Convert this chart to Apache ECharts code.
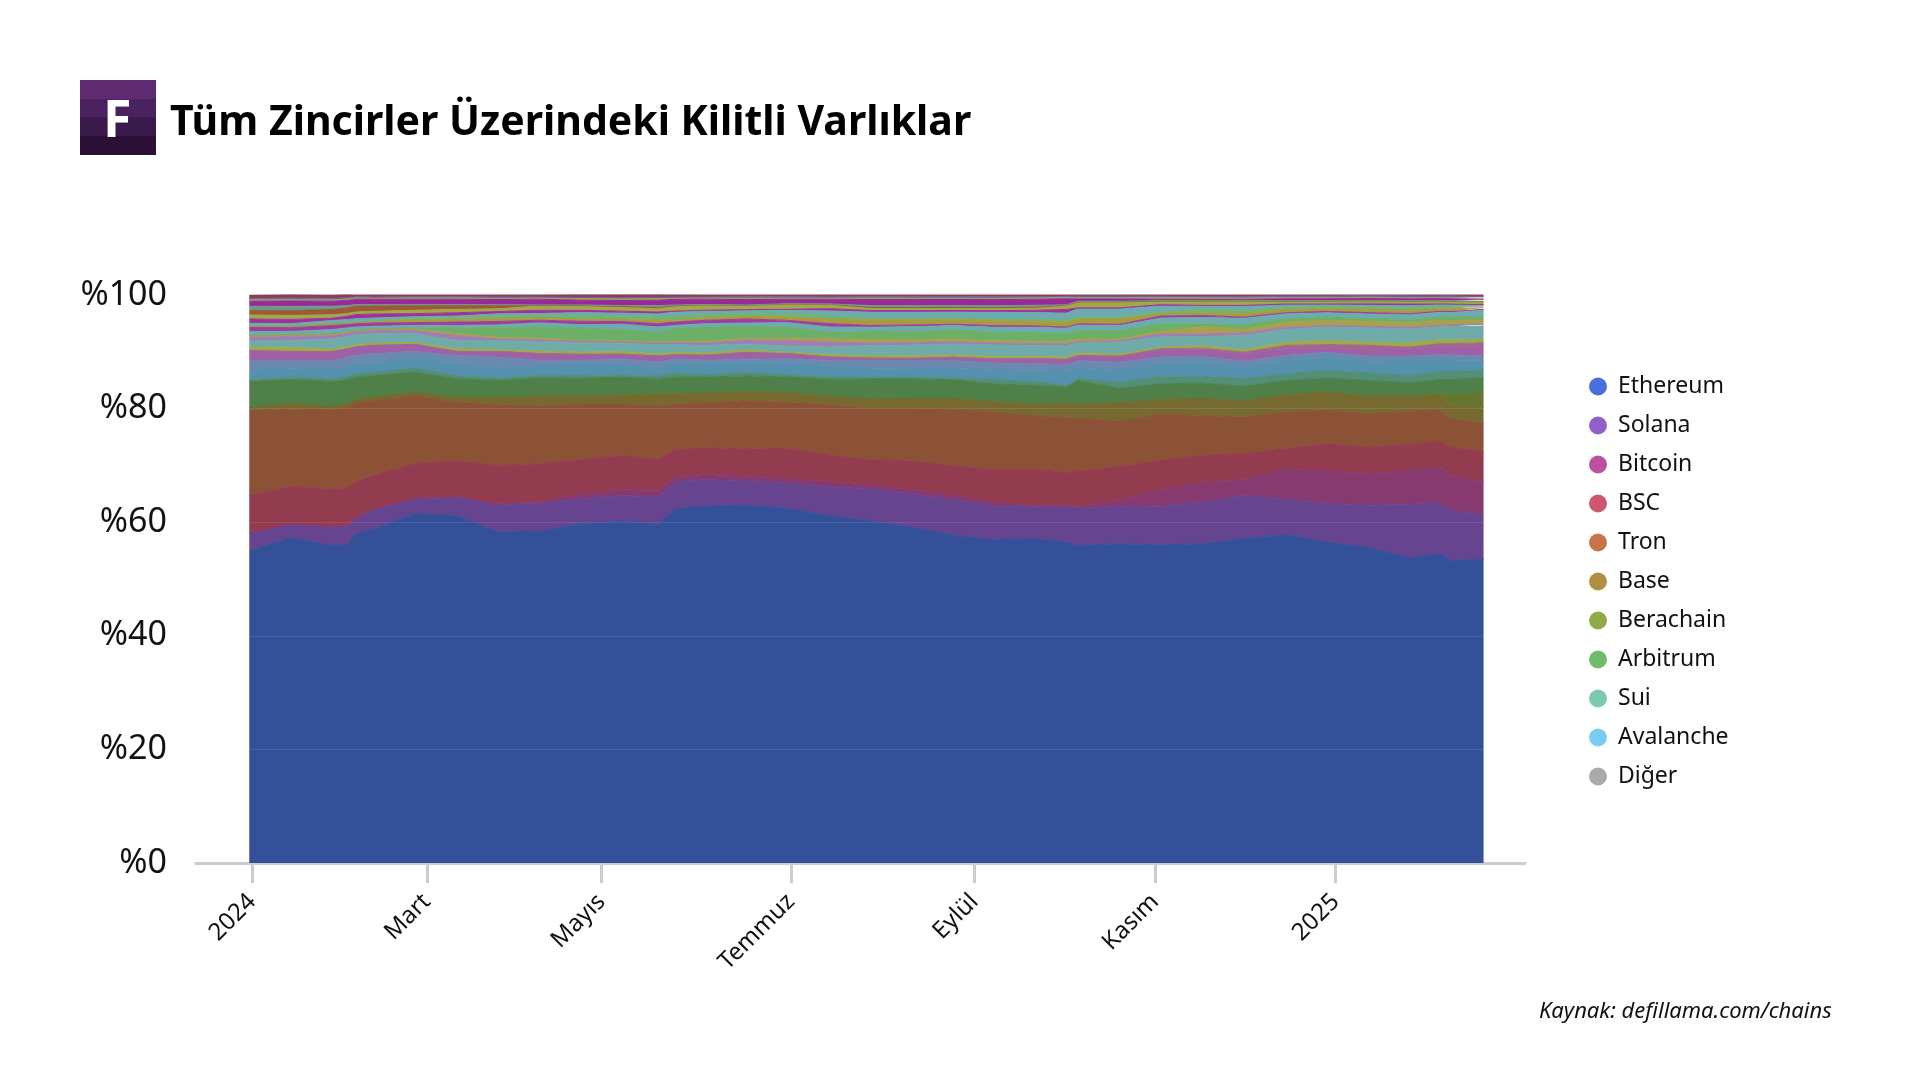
<!DOCTYPE html>
<html>
<head>
<meta charset="utf-8">
<title>Tüm Zincirler Üzerindeki Kilitli Varlıklar</title>
<script src="https://cdn.jsdelivr.net/npm/echarts@6/dist/echarts.min.js"></script>
<style>
html,body{margin:0;padding:0;background:#fff}
#box{width:1920px;height:1080px}
</style>
</head>
<body>
<div id="box"></div>
<script>
const dates = ['2023-12-31','2024-01-14','2024-01-28','2024-02-02','2024-02-05','2024-02-11','2024-02-25','2024-03-10','2024-03-24','2024-04-07','2024-04-21','2024-05-05','2024-05-17','2024-05-23','2024-06-02','2024-06-16','2024-06-30','2024-07-14','2024-07-28','2024-08-11','2024-08-25','2024-09-08','2024-09-22','2024-10-02','2024-10-06','2024-10-20','2024-11-03','2024-11-17','2024-12-01','2024-12-15','2024-12-29','2025-01-12','2025-01-26','2025-02-05','2025-02-09','2025-02-20'];

// month ticks
const tickDates = ['2024-01-01','2024-02-29','2024-04-28','2024-07-01','2024-09-01','2024-11-01','2025-01-01'];
const tickLabels = ['2024','Mart','Mayıs','Temmuz','Eylül','Kasım','2025'];

// share of total value locked, %, bottom band first
const ethereum = [54.9,57.3,55.9,56.0,58.0,58.8,61.5,61.2,58.3,58.4,59.7,60.2,59.6,62.4,62.8,63.0,62.4,61.2,60.2,59.1,57.7,56.9,57.1,56.5,55.9,56.2,56.0,56.2,57.1,57.8,56.5,55.6,53.7,54.4,53.3,53.5];
const solana = [3.1,2.3,3.2,3.3,2.6,3.4,2.6,3.2,4.8,4.9,4.4,4.5,4.8,4.7,4.7,4.2,4.5,5.0,5.7,5.8,6.3,5.9,5.7,6.3,6.5,6.6,6.7,7.3,7.6,6.3,6.8,7.4,9.4,9.1,8.8,7.8];
const bitcoin = [.1,.1,.1,.1,.1,.1,.1,.1,.1,.3,.9,1.0,1.2,.8,.9,.9,.8,.9,.6,.8,.7,.7,.1,.1,.3,1.0,3.0,3.4,2.8,5.2,5.8,5.5,6.0,6.2,6.0,5.8];
const bsc = [6.6,6.6,6.7,6.5,6.4,5.9,6.2,6.3,6.8,6.7,6.0,6.1,5.4,4.9,4.7,4.8,5.3,4.7,4.5,5.1,5.2,5.8,6.4,5.9,6.3,6.0,5.2,4.9,4.6,3.7,4.7,4.7,4.6,4.6,5.1,5.3];
const tron = [14.9,13.6,13.9,14.3,13.9,13.2,11.8,10.3,10.7,10.2,9.8,9.0,9.5,8.0,7.9,8.5,8.1,8.9,9.0,9.2,10.0,10.1,9.4,9.6,9.3,8.0,8.1,7.0,6.4,6.4,5.9,5.9,5.8,5.6,5.0,5.0];
const base = [.6,1.1,.6,.6,.6,.6,.7,.9,1.3,1.7,1.5,1.6,2.1,1.8,1.8,1.6,1.8,1.5,1.7,1.8,1.9,1.8,2.1,2.6,2.5,3.3,2.6,3.0,2.9,3.0,3.3,3.1,2.7,2.7,2.3,2.8];
const berachain = [0,0,0,0,0,0,0,0,0,0,0,0,0,0,0,0,0,0,0,0,0,0,0,0,0,0,0,0,0,0,0,0,0,0,1.9,2.7];
const arbitrum = [4.53,4.12,4.35,4.29,3.94,3.82,3.53,3.23,2.94,3.18,3.06,3.12,2.53,2.94,2.76,2.76,2.65,2.94,3.53,3.41,3.29,3.12,3.29,2.76,4.12,2.47,2.76,2.70,2.53,2.53,2.35,2.76,2.35,2.53,2.70,2.53];
const sui = [.35,.41,.47,.59,.59,.59,.71,.59,.41,.47,.47,.41,.71,.76,.41,.59,.41,.41,.29,.29,.24,.76,.71,.29,.41,1.06,1.35,1.18,1.41,1.18,1.35,1.35,1.29,1.41,1.41,1.35];
const avalanche = [1.76,1.59,1.76,1.76,1.59,1.65,1.94,2.06,1.94,1.47,2.06,1.76,1.47,1.59,1.94,1.76,1.94,2.06,1.59,1.59,1.76,1.71,1.94,2.65,1.76,2.23,2.18,2.59,1.94,2.35,2.35,2.0,2.65,1.94,1.94,1.59];
const diger = [1.59,1.35,1.47,1.59,1.65,1.59,1.0,1.47,1.76,1.18,.59,1.06,.88,.88,.59,.59,.88,.88,1.35,1.35,1.35,1.23,1.18,1.0,1.35,1.29,1.18,.94,1.06,.88,.88,.94,.76,1.0,1.0,.88];

// smaller chains above, not in the legend
const band12 = [1.76,1.59,1.59,1.47,1.47,1.47,1.23,.71,1.0,1.18,1.06,.82,1.06,.71,.88,1.18,.88,.59,.41,.41,.59,.71,.88,.94,.88,1.06,1.18,1.18,1.29,1.18,.71,1.18,1.29,1.35,1.35,1.47];
const band13 = [0,0,0,0,0,0,0,0,0,0,0,0,0,0,0,0,0,0,0,0,0,0,0,0,0,0,.29,.24,.29,.59,.65,.71,.29,.59,.59,.88];
const band14 = [.59,.76,.47,.41,.41,.41,.29,.47,.35,.47,.41,.47,.41,.47,.41,.47,.29,.41,.47,.47,.41,.47,.41,.41,.47,.41,.29,.47,.47,.59,.71,.59,.76,.71,.71,.59];
const band15 = [1.18,1.18,1.76,1.76,1.76,1.65,1.59,1.47,1.59,1.59,1.65,1.47,1.59,1.29,1.35,1.0,1.06,1.35,1.76,1.88,1.94,2.0,1.94,2.06,1.76,2.06,1.88,1.59,2.47,2.23,2.35,2.47,2.47,2.23,2.35,2.35];
const band16 = [.59,.71,.59,.59,.47,.59,.59,.88,.29,.35,.35,.35,.35,.47,.41,.71,1.0,.88,.47,.47,.41,.35,.35,.29,.24,.29,.47,.47,.47,.41,.29,.29,.29,.29,.29,.29];
const band17 = [.35,.35,.35,.35,.35,.29,.29,.29,.29,.29,.06,.06,.12,.12,.29,.29,.41,.59,.59,.47,.47,.41,.35,.41,.47,.29,.41,1.23,.59,.88,.88,.88,.76,.88,.76,.76];
const band18 = [0,0,0,0,0,0,.12,1.0,1.76,2.0,2.18,2.0,1.76,2.35,2.53,2.12,1.94,1.18,1.41,1.41,1.65,1.47,1.53,1.35,1.47,1.47,1.35,.53,.82,.59,.59,.47,.59,.59,.59,.59];
const band19 = [.65,.53,.71,.59,.53,.41,.47,.47,.41,.71,.59,.94,.88,.47,.59,.59,.76,.88,.76,.88,.71,.88,.94,1.0,1.0,.88,1.0,1.12,1.18,.88,.76,.82,.82,.88,.88,1.18];
const band20 = [.76,.65,.71,.59,.59,.59,.47,.59,.59,.47,.59,.47,.59,.59,.59,.71,.41,.59,.29,.29,.24,.29,.24,.18,.18,.24,.35,.35,.18,.18,.24,.24,.18,.12,.12,.12];
const band21 = [.29,.29,.41,.29,.29,.35,.41,.47,.47,.41,.35,.35,.59,.29,.41,.47,.59,.76,1.0,.94,.82,.88,.82,.88,.88,.94,.41,.47,.59,.59,.47,.59,.59,.47,.47,.29];
const band22 = [0,0,0,0,0,0,.41,.35,.47,.47,.71,.59,.59,.76,.59,.59,.59,.59,.29,.24,.24,.29,.35,.35,.29,.29,.29,.71,.59,.41,.47,.41,.41,.47,.47,.29];
const band23 = [.41,.41,.47,.59,.59,.53,.24,.24,.41,.29,.47,.53,.53,.71,.59,.41,.59,.88,1.06,1.06,1.06,1.18,1.18,1.23,1.47,1.47,1.06,.47,.71,.41,.24,.29,.41,.24,.24,.12];
const band24 = [.76,.76,.41,.59,.71,.71,.53,.59,.41,.59,.41,.35,.35,.18,.18,.18,.18,.41,.29,.29,.29,.29,.41,.65,.18,.18,.24,.12,.18,.12,.12,.24,.29,.12,.12,.12];
const band25 = [.71,.71,.59,.47,.47,.47,.59,.59,.47,.76,.76,.76,.71,.88,.88,.71,.88,.71,.47,.47,.47,.47,.47,.71,1.0,1.0,.59,.71,.71,.47,.47,.47,.47,.47,.47,.47];
const band26 = [.82,.88,.94,1.0,1.06,.94,.88,.71,.59,.06,.06,.06,.06,.06,.06,.06,.06,.06,.06,.06,.06,.06,.06,.06,.06,.06,.06,.06,.06,.06,.06,.06,.06,.06,.06,.06];
const band27 = [.71,.71,.59,.41,.24,.24,.12,.12,.12,.12,.12,.18,.35,.12,.06,.06,.06,.06,.35,.35,.35,.35,.35,.06,.12,.12,.06,.06,.06,.06,.06,.06,.06,.06,.06,.06];
const band28 = [.88,.94,.88,.88,.94,.94,.94,.94,.94,1.0,.82,.88,.94,1.0,.94,.94,.76,.82,1.06,1.06,1.06,1.06,1.06,1.06,.41,.41,.24,.24,.24,.35,.35,.35,.35,.35,.35,.35];
const band29 = [.3,.3,.3,.3,.3,.25,.25,.3,.25,.25,.3,.3,.3,.25,.25,.3,.25,.25,.3,.3,.25,.3,.25,.2,.2,.2,.3,.3,.25,.2,.2,.25,.2,.2,.25,.2];
const band30 = [.2,.25,.2,.2,.15,.15,.2,.15,.2,.15,.2,.2,.2,.15,.15,.2,.2,.15,.2,.2,.25,.2,.2,.25,.3,.3,.25,.2,.25,.3,.25,.3,.3,.25,.3,.25];
const band31 = [.6,.6,.6,.6,.6,.6,.6,.6,.6,.6,.6,.6,.6,.6,.6,.6,.6,.6,.6,.6,.6,.6,.6,.6,.6,.6,.6,.6,.6,.6,.6,.6,.6,.6,.6,.6];

const names = ['Ethereum','Solana','Bitcoin','BSC','Tron','Base','Berachain','Arbitrum','Sui','Avalanche','Diğer'];
const legendColors = ['#4a6fdb','#9060c8','#bb509c','#ce566e','#c8744a','#b09040','#8fab46','#70bc6a','#7ccab0','#7ccbf2','#aaaaaa'];
const bands = [ethereum,solana,bitcoin,bsc,tron,base,berachain,arbitrum,sui,avalanche,diger,band12,band13,band14,band15,band16,band17,band18,band19,band20,band21,band22,band23,band24,band25,band26,band27,band28,band29,band30,band31];
const fills = ['#335099','#66448f','#863a70','#933c50','#8c5236','#776a30','#667530','#50804a','#528f78','#5590af','#6a88b0',
    '#a060a8','#a0688c','#9caa4c','#6faba8','#a07fb0','#a8a04c','#6cb068','#6cabb0','#a03ca0','#a89a40','#70b46e','#6cabb0','#a030a0','#a0a848','#9a5c34','#6e9a8a','#98289c','#98a050','#6e5ca8','#8a3e58'];

const font = '"Noto Sans"';
const chart = echarts.init(document.getElementById('box'), null, {renderer:'canvas'});

function ms(d){ return +new Date(d + 'T00:00:00'); }
const ticks = tickDates.map(ms);
const times = dates.map(ms);
const firstDay = times[0], lastDay = times[times.length-1];
const axisMin = ms('2023-12-13'), axisMax = ms('2025-03-06');

chart.setOption({
    animation:false,
    backgroundColor:'#fff',
    grid:{left:196,right:395,top:295,height:568},
    legend:{
        orient:'vertical',
        left:1584,
        top:370,
        itemWidth:18,
        itemHeight:18,
        itemGap:16,
        icon:'circle',
        selectedMode:false,
        textStyle:{fontFamily:font,fontSize:23,color:'#111',padding:[0,0,0,6]},
        data:names.map((n,i) => ({name:n,icon:'circle',itemStyle:{color:legendColors[i]}}))
    },
    xAxis:[
        // carries the series
        {
            type:'time',
            min:axisMin,
            max:axisMax,
            splitLine:{show:false},
            axisLine:{show:false},
            axisTick:{show:false},
            axisLabel:{show:false}
        },
        // carries the month ticks and their labels
        {
            type:'value',
            position:'bottom',
            min:axisMin,
            max:axisMax,
            splitLine:{show:false},
            axisLine:{lineStyle:{color:'#cccccc',width:3}},
            axisTick:{show:true,length:20,customValues:ticks,lineStyle:{color:'#cccccc',width:3}},
            axisLabel:{
                customValues:ticks,
                rotate:45,
                margin:35,
                fontFamily:font,
                fontSize:24,
                color:'#111',
                hideOverlap:false,
                formatter:function(v){ return tickLabels[ticks.indexOf(+v)]; }
            }
        }
    ],
    yAxis:{
        type:'value',
        min:0,
        max:100,
        interval:20,
        splitLine:{show:false},
        axisLine:{show:false},
        axisTick:{show:false},
        axisLabel:{margin:29,fontFamily:font,fontSize:34,color:'#111',padding:[11,0,0,0],formatter:'%{value}'}
    },
    series:bands.map((values,i) => ({
        name:names[i] || ('Zincir ' + (i+1)),
        type:'line',
        stack:'tvl',
        showSymbol:false,
        symbol:'none',
        silent:true,
        // same colour as the fill, closes the white seams between bands
        lineStyle:{width:1,color:fills[i]},
        itemStyle:{color:fills[i]},
        areaStyle:{color:fills[i],opacity:1},
        data:values.map((v,j) => [times[j],v]),
        markLine:i === bands.length-1 ? {
            silent:true,
            symbol:'none',
            label:{show:false},
            lineStyle:{color:'rgba(255,255,255,0.1)',width:1,type:'solid'},
            data:[
                [{xAxis:firstDay,yAxis:20},{xAxis:lastDay,yAxis:20}],
                [{xAxis:firstDay,yAxis:40},{xAxis:lastDay,yAxis:40}],
                [{xAxis:firstDay,yAxis:60},{xAxis:lastDay,yAxis:60}],
                [{xAxis:firstDay,yAxis:80},{xAxis:lastDay,yAxis:80}]
            ]
        } : undefined
    })),
    graphic:[
        {type:'rect',left:80,top:80,shape:{width:76,height:19},style:{fill:'#5e2a72'},silent:true},
        {type:'rect',left:80,top:99,shape:{width:76,height:18},style:{fill:'#4b2260'},silent:true},
        {type:'rect',left:80,top:117,shape:{width:76,height:19},style:{fill:'#3a1a4c'},silent:true},
        {type:'rect',left:80,top:136,shape:{width:76,height:19},style:{fill:'#2c1035'},silent:true},
        {type:'text',left:103,top:96,style:{text:'F',fill:'#fff',font:'bold 52px "Noto Sans"'},silent:true},
        {type:'text',left:170,top:103,style:{text:'Tüm Zincirler Üzerindeki Kilitli Varlıklar',fill:'#000',font:'bold 41px "Noto Sans"'},silent:true},
        {type:'text',left:1539,top:1001,style:{text:'Kaynak: defillama.com/chains',fill:'#111',font:'italic 22px "Noto Sans"'},silent:true}
    ]
});
</script>
</body>
</html>
